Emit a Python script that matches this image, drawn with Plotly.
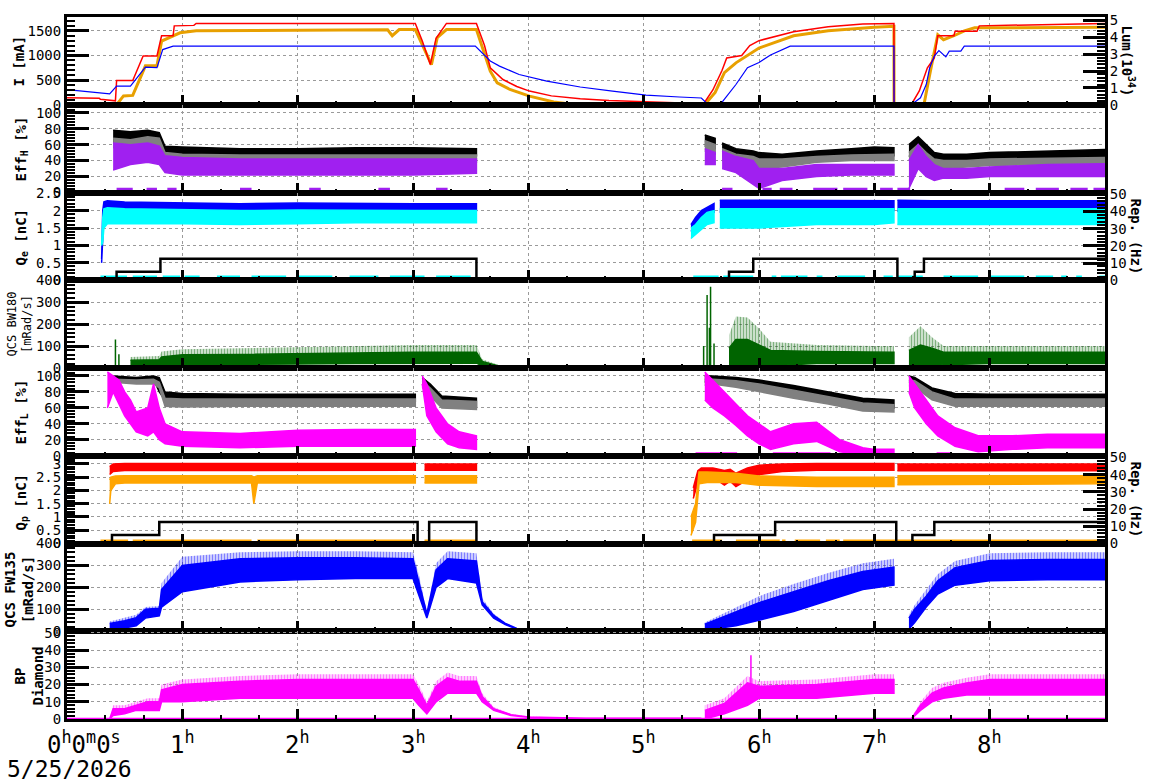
import plotly.graph_objects as go

# ---------------- data (time in hours) ----------------
# Panel 1: beam currents [mA] and luminosity [1e34]
t_ler = [0, 0.28, 0.29, 0.37, 0.42, 0.43, 0.57, 0.66, 0.78, 0.82, 0.92, 0.93, 1.1, 1.12, 3.02, 3.08, 3.15, 3.2, 3.29, 3.55,
         3.62, 3.67, 3.78, 3.9, 4.01, 4.2, 4.45, 4.7, 5.02, 5.31, 5.52, 5.6, 5.68, 5.72, 5.85, 5.92, 6.0, 6.3, 6.6, 6.9,
         7.17, 7.171, 7.32, 7.39, 7.46, 7.52, 7.55, 7.69, 7.7, 7.89, 7.91, 9.0]
I_ler = [140, 130, 110, 85, 80, 490, 490, 990, 990, 1400, 1400, 1600, 1610, 1650, 1650, 1300, 815, 1350, 1650, 1650,
         1200, 750, 512, 370, 277, 180, 121, 85, 55, 26, 20, 300, 700, 950, 1000, 1200, 1300, 1480, 1580, 1640,
         1650, 0, 0, 280, 750, 950, 1400, 1400, 1490, 1490, 1600, 1650]
t_her = [0, 0.29, 0.3, 0.43, 0.49, 0.57, 0.68, 0.78, 0.82, 0.88, 0.98, 1.12, 2.0, 2.78, 2.82, 2.88, 3.02, 3.16, 3.21, 3.29,
         3.55, 3.67, 3.73, 3.84, 4.01, 4.22, 4.4, 5.53, 5.62, 5.7, 5.8, 5.9, 6.0, 6.3, 6.6, 7.0, 7.17, 7.171, 7.43,
         7.48, 7.52, 7.55, 7.6, 7.69, 7.78, 7.87, 9.0]
I_her = [15, 10, 0, 0, 180, 190, 790, 790, 1290, 1360, 1460, 1500, 1510, 1520, 1400, 1525, 1525, 815, 1360, 1525,
         1525, 680, 445, 310, 175, 55, 5, 5, 250, 650, 850, 1000, 1150, 1400, 1500, 1570, 1590, 0, 0,
         610, 1090, 1420, 1320, 1400, 1500, 1560, 1570]
t_lum = [0, 0.37, 0.43, 0.55, 0.68, 0.78, 0.83, 0.92, 3.54, 3.67, 3.75, 3.92, 4.16, 4.45, 4.73, 5.02, 5.31, 5.5,
         5.56, 5.68, 5.8, 5.9, 6.0, 6.1, 6.27, 7.17, 7.171, 7.32, 7.4, 7.45, 7.48, 7.52, 7.56, 7.62, 7.65, 7.75, 7.78, 9.0]
L_lum = [0.9, 0.65, 1.1, 1.1, 2.23, 2.2, 3.27, 3.47, 3.47, 2.59, 2.29, 1.79, 1.4, 1.05, 0.81, 0.57, 0.46, 0.4,
         0.0, 0.15, 1.2, 2.2, 2.5, 2.95, 3.47, 3.47, 0, 0, 0.41, 1.2, 2.19, 2.88, 3.21, 2.84, 3.18, 3.18, 3.47, 3.47]

# Panel 2: Eff_H [%] bands (segments A..D)
t_effH = [[0.40, 0.55, 0.70, 0.80, 0.85, 1.0, 1.5, 2.0, 2.5, 3.0, 3.55],
          [5.53, 5.58, 5.62],
          [5.68, 5.8, 5.95, 6.0, 6.2, 6.5, 6.8, 7.0, 7.17],
          [7.3, 7.38, 7.45, 7.52, 7.6, 7.8, 8.0, 8.5, 9.0]]
effH_blk_hi = [[78, 76, 78, 75, 58, 57, 55, 55, 56, 56, 55], [72, 70, 68], [62, 55, 52, 50, 48, 52, 55, 57, 56],
               [60, 70, 60, 50, 48, 48, 50, 52, 54]]
effH_blk_lo = [[63, 65, 66, 64, 48, 46, 45, 45, 45, 45, 46], [58, 56, 55], [45, 42, 38, 36, 38, 42, 45, 46, 46],
               [45, 55, 45, 38, 36, 38, 40, 42, 42]]
effH_gry_hi = [[68, 66, 70, 68, 50, 48, 47, 47, 47, 47, 47], [65, 62, 60], [55, 48, 45, 42, 42, 45, 47, 48, 48],
               [50, 60, 50, 42, 40, 40, 42, 43, 44]]
effH_gry_lo = [[56, 58, 60, 58, 40, 38, 38, 38, 38, 38, 38], [52, 50, 48], [40, 38, 32, 30, 32, 38, 40, 40, 40],
               [40, 48, 40, 32, 30, 32, 34, 35, 35]]
effH_pur_hi = [[62, 60, 62, 58, 46, 44, 42, 42, 42, 42, 42], [55, 52, 50], [52, 45, 40, 30, 30, 35, 35, 35, 35],
               [40, 60, 45, 35, 30, 30, 32, 35, 36]]
effH_pur_lo = [[28, 35, 38, 35, 25, 22, 22, 22, 22, 22, 24], [35, 35, 35], [30, 25, 10, 5, 15, 20, 22, 22, 22],
               [5, 30, 20, 15, 18, 18, 20, 20, 20]]
effH_zero_runs = [(0.43, 0.57), (0.69, 0.78), (0.87, 0.95), (1.5, 1.6), (2.1, 2.2), (2.7, 2.8), (3.2, 3.3),
                  (5.68, 5.77), (6.03, 6.11), (6.18, 6.29), (6.47, 6.68), (6.73, 6.94), (7.05, 7.16),
                  (7.2, 7.31), (8.13, 8.3), (8.4, 8.6), (8.7, 8.85), (8.9, 9.0)]

# Panel 3: Q_e [nC] bands and rep rate [Hz]
t_qe = [[0.30, 0.31, 0.32, 0.35, 0.5, 1.0, 1.5, 2.0, 2.5, 3.0, 3.55],
        [5.41, 5.45, 5.5, 5.55, 5.61],
        [5.66, 6.0, 6.5, 7.0, 7.17],
        [7.2, 7.5, 8.0, 8.5, 9.0]]
qe_blu_hi = [[0.6, 2.0, 2.25, 2.28, 2.25, 2.22, 2.2, 2.22, 2.2, 2.2, 2.2], [1.6, 1.8, 2.0, 2.1, 2.2],
             [2.3, 2.3, 2.28, 2.28, 2.28], [2.3, 2.28, 2.28, 2.28, 2.28]]
qe_blu_lo = [[0.5, 1.2, 1.95, 2.02, 2.0, 2.0, 1.98, 2.0, 2.0, 2.0, 2.0], [1.4, 1.55, 1.75, 1.9, 1.95],
             [1.95, 1.95, 2.0, 2.0, 2.0], [1.98, 2.0, 2.0, 2.0, 2.0]]
qe_cya_hi = [[1.0, 1.8, 2.05, 2.08, 2.05, 2.02, 2.0, 2.02, 2.0, 2.0, 2.0], [1.5, 1.6, 1.8, 1.95, 2.0],
             [2.05, 2.05, 2.05, 2.05, 2.05], [2.05, 2.05, 2.05, 2.05, 2.05]]
qe_cya_lo = [[1.0, 1.1, 1.5, 1.62, 1.62, 1.62, 1.6, 1.62, 1.65, 1.65, 1.65], [1.2, 1.3, 1.45, 1.6, 1.65],
             [1.5, 1.5, 1.6, 1.6, 1.65], [1.6, 1.6, 1.6, 1.6, 1.6]]
qe_zero_runs = [(0.29, 0.52), (0.57, 0.78), (0.83, 0.98), (1.02, 1.15), (1.3, 1.5), (1.6, 1.9), (2.0, 2.3),
                (2.45, 2.7), (2.8, 3.1), (3.2, 3.5), (5.43, 5.65), (5.69, 5.95), (6.11, 6.15), (6.19, 6.42),
                (6.5, 6.55), (6.68, 6.92), (7.08, 7.16), (7.2, 7.42), (7.6, 7.9), (8.0, 8.3), (8.4, 8.55),
                (8.62, 8.67), (8.75, 8.8), (8.95, 9.0)]
t_rep_e = [0, 0.43, 0.81, 3.55, 5.74, 5.95, 7.2, 7.35, 7.43, 9.0]
rep_e = [0, 5, 12.5, 0, 5, 12.5, 0, 5, 12.5, 12.5]

# Panel 4: QCS BW180 [mRad/s]  (lo = floor, mid = top of dense part, hi = spike tops)
t_bw = [[0.55, 0.8, 0.82, 1.0, 1.5, 2.0, 2.5, 3.0, 3.55, 3.6, 3.75, 3.9],
        [5.74, 5.8, 5.9, 6.0, 6.1, 6.5, 7.0, 7.17],
        [7.3, 7.4, 7.5, 7.6, 8.0, 8.5, 9.0]]
bw_hi = [[50, 55, 75, 85, 90, 95, 100, 105, 105, 40, 12, 2], [150, 235, 230, 180, 120, 105, 100, 100],
         [140, 190, 140, 100, 100, 100, 100]]
bw_mid = [[35, 38, 50, 60, 62, 65, 70, 72, 72, 30, 8, 1], [90, 130, 130, 105, 80, 75, 72, 72],
          [80, 105, 90, 72, 72, 72, 72]]
bw_lo = [[10, 12, 15, 15, 15, 18, 20, 22, 22, 10, 3, 0], [5, 10, 10, 10, 10, 20, 20, 20],
         [5, 10, 10, 15, 20, 20, 20]]
t_bw_spk = [0.42, 0.45, 5.52, 5.55, 5.57, 5.58, 5.61]
bw_spk = [130, 63, 100, 333, 184, 370, 112]

# Panel 5: Eff_L [%]
t_effL = [[0.4, 0.6, 0.75, 0.8, 0.85, 1.0, 1.5, 2.0, 2.5, 3.02],
          [3.08, 3.15, 3.25, 3.55],
          [5.53, 5.6, 5.8, 6.0, 6.3, 6.6, 6.9, 7.17],
          [7.3, 7.35, 7.5, 7.7, 8.0, 8.5, 9.0]]
effL_blk_hi = [[100, 98, 100, 98, 80, 78, 77, 77, 77, 77], [98, 90, 75, 72], [100, 100, 98, 95, 88, 80, 72, 70],
               [100, 98, 85, 78, 77, 77, 77]]
effL_blk_lo = [[95, 94, 96, 80, 70, 68, 68, 68, 68, 68], [90, 80, 65, 62], [92, 95, 92, 88, 80, 72, 62, 60],
               [92, 90, 75, 68, 67, 67, 67]]
effL_gry_hi = [[96, 95, 96, 92, 72, 71, 71, 71, 71, 71], [94, 85, 70, 68], [96, 96, 94, 90, 82, 74, 66, 64],
               [95, 94, 80, 71, 71, 71, 71]]
effL_gry_lo = [[92, 90, 90, 85, 62, 61, 62, 62, 62, 62], [86, 75, 60, 58], [88, 90, 86, 80, 72, 65, 56, 55],
               [88, 86, 70, 62, 62, 62, 62]]
t_effL_m = [[0.35, 0.4, 0.45, 0.5, 0.55, 0.6, 0.7, 0.75, 0.8, 0.85, 1.0, 1.5, 2.0, 2.5, 3.02],
            [3.08, 3.12, 3.2, 3.3, 3.4, 3.55],
            [5.53, 5.6, 5.7, 5.8, 5.9, 6.0, 6.1, 6.3, 6.5, 6.7, 6.9, 7.0, 7.17],
            [7.3, 7.35, 7.45, 7.55, 7.7, 7.9, 8.2, 8.5, 9.0]]
effL_mag_hi = [[105, 100, 95, 80, 70, 55, 60, 90, 60, 40, 30, 28, 32, 33, 33], [100, 90, 60, 40, 30, 25],
               [105, 95, 80, 65, 50, 40, 30, 40, 42, 20, 10, 8, 8], [100, 90, 70, 50, 35, 25, 25, 27, 27]]
effL_mag_lo = [[60, 80, 65, 50, 40, 30, 25, 30, 20, 15, 12, 10, 12, 12, 12], [90, 50, 30, 15, 10, 8],
               [70, 60, 50, 38, 25, 15, 8, 15, 18, 5, 1, 1, 1], [80, 60, 40, 25, 12, 5, 8, 10, 10]]
effL_zero_runs = [(5.45, 5.81), (6.12, 6.62), (6.79, 7.17), (7.54, 7.66)]

# Panel 6: Q_p [nC] and rep rate [Hz]
t_qp_r = [[0.37, 0.4, 0.5, 1.0, 1.5, 2.0, 2.5, 3.02], [3.1, 3.55],
          [5.43, 5.47, 5.5, 5.6, 5.7, 5.75, 5.8, 5.9, 6.0, 6.2, 6.5, 7.0, 7.17], [7.2, 9.0]]
qp_red_hi = [[2.9, 3.0, 3.02, 3.02, 3.02, 3.02, 3.02, 3.02], [3.0, 3.0],
             [2.1, 2.75, 2.85, 2.85, 2.75, 2.8, 2.65, 2.85, 2.95, 3.0, 3.02, 3.02, 3.02], [3.0, 3.0]]
qp_red_lo = [[2.6, 2.72, 2.75, 2.76, 2.76, 2.76, 2.76, 2.76], [2.76, 2.76],
             [1.7, 2.3, 2.5, 2.5, 2.2, 2.35, 2.15, 2.4, 2.6, 2.72, 2.76, 2.76, 2.76], [2.74, 2.74]]
t_qp_o = [[0.37, 0.38, 0.42, 0.5, 1.0, 1.6, 1.62, 1.65, 2.0, 2.5, 3.02], [3.1, 3.55],
          [5.41, 5.45, 5.48, 5.55, 5.8, 6.0, 6.5, 7.0, 7.17], [7.2, 9.0]]
qp_org_hi = [[2.4, 2.5, 2.55, 2.56, 2.56, 2.56, 2.5, 2.56, 2.56, 2.56, 2.56], [2.56, 2.56],
             [1.0, 1.5, 2.7, 2.7, 2.65, 2.55, 2.5, 2.5, 2.5], [2.56, 2.56]]
qp_org_lo = [[1.5, 2.0, 2.25, 2.28, 2.28, 2.28, 1.5, 2.28, 2.28, 2.28, 2.28], [2.28, 2.28],
             [0.3, 0.8, 2.25, 2.3, 2.3, 2.2, 2.15, 2.15, 2.15], [2.22, 2.25]]
qp_zero_runs = [(0.29, 0.53), (0.57, 1.6), (1.65, 3.02), (3.1, 3.55), (5.42, 5.68), (5.8, 6.18), (6.2, 6.23),
                (6.31, 6.53), (6.58, 6.7), (6.73, 7.2), (7.2, 9.0)]
t_rep_p = [0, 0.39, 0.8, 3.04, 3.14, 3.55, 5.61, 6.14, 7.19, 7.33, 7.52, 9.0]
rep_p = [0, 5, 12.5, 0, 12.5, 0, 5, 12.5, 0, 5, 12.5, 12.5]

# Panel 7: QCS FW135 [mRad/s]
t_fw = [[0.37, 0.5, 0.6, 0.68, 0.8, 0.82, 1.0, 1.5, 2.0, 2.5, 3.0, 3.05, 3.12, 3.2, 3.3, 3.55, 3.6, 3.7, 3.8, 3.9, 4.0],
        [5.53, 5.8, 6.0, 6.3, 6.6, 6.9, 7.17],
        [7.3, 7.35, 7.45, 7.55, 7.7, 8.0, 8.5, 9.0]]
fw_hi = [[45, 60, 75, 110, 115, 220, 340, 360, 365, 365, 360, 260, 90, 310, 365, 355, 150, 80, 40, 15, 5],
         [40, 110, 160, 215, 265, 310, 330], [75, 120, 190, 260, 320, 355, 360, 360]]
fw_mid = [[35, 48, 62, 100, 105, 190, 300, 330, 335, 335, 330, 230, 80, 280, 330, 320, 135, 72, 36, 13, 4],
          [32, 88, 130, 180, 230, 272, 292], [60, 100, 160, 230, 290, 322, 327, 327]]
fw_lo = [[10, 15, 25, 60, 70, 110, 180, 225, 235, 240, 240, 170, 60, 200, 240, 220, 120, 60, 30, 10, 3],
         [5, 25, 50, 90, 140, 190, 210], [10, 40, 110, 170, 210, 230, 235, 235]]

# Panel 8: BP Diamond
t_bp = [[0.37, 0.4, 0.5, 0.6, 0.7, 0.8, 0.82, 1.0, 1.5, 2.0, 2.5, 3.0, 3.05, 3.12, 3.2, 3.3, 3.4, 3.55, 3.6, 3.7, 3.85, 4.0, 4.5, 5.5],
        [5.53, 5.7, 5.9, 6.0, 6.5, 7.0, 7.17],
        [7.32, 7.4, 7.5, 7.6, 7.8, 8.0, 9.0]]
bp_hi = [[0, 8, 8, 10, 12, 12, 20, 23, 25, 26, 26, 26, 20, 10, 22, 27, 25, 25, 15, 7, 3, 1.5, 0.5, 0.5],
         [8, 12, 25, 22, 23, 26, 26], [0, 10, 18, 21, 24, 26, 26]]
bp_mid = [[0, 6, 6, 8, 10, 10, 17, 20, 22, 23, 23, 23, 17, 8, 19, 24, 22, 22, 13, 6, 2.5, 1.2, 0.4, 0.4],
          [5, 9, 21, 19, 20, 23, 23], [0, 8, 15, 18, 21, 23, 23]]
bp_lo = [[0, 2, 3, 5, 5, 5, 10, 10, 12, 12, 12, 12, 8, 3, 10, 15, 15, 15, 10, 5, 2, 1, 0, 0],
         [0, 3, 8, 12, 12, 15, 15], [0, 5, 10, 12, 14, 14, 14]]
t_bp_spk = [5.93]
bp_spk = [37]

hour_ticks = list(range(1, 9))

# ---------------- figure ----------------
BLACK, GRAY, PURPLE, MAGENTA = "#000000", "#808080", "#a020f0", "#ff00ff"
BLUE, CYAN, RED, ORANGE, GOLD, GREEN = "#0000ff", "#00ffff", "#ff0000", "#ffa500", "#e8a000", "#006400"
FONT = "DejaVu Sans Mono"
GRID = "#9a9a9a"

fig = go.Figure()


def xa(k):
    return "x" if k == 1 else f"x{k}"


def ya(k):
    return "y" if k == 1 else f"y{k}"


def band(row, t, lo, hi, color, yaxis=None, pattern=False):
    xs = list(t) + list(t)[::-1]
    ys = list(hi) + list(lo)[::-1]
    kw = dict(fill="toself", fillcolor=color, line=dict(color=color, width=1.5))
    if pattern:
        kw = dict(fill="toself", fillcolor=color, line=dict(color="rgba(0,0,0,0)", width=0),
                  fillpattern=dict(shape="|", fgcolor=color, bgcolor="rgba(255,255,255,0)",
                                   size=3, solidity=0.6))
    fig.add_trace(go.Scatter(x=xs, y=ys, mode="lines", xaxis=xa(row), yaxis=yaxis or ya(row),
                             hoverinfo="skip", showlegend=False, **kw))


def curve(row, t, v, color, width=1.5, shape="linear", yaxis=None):
    fig.add_trace(go.Scatter(x=t, y=v, mode="lines", line=dict(color=color, width=width, shape=shape),
                             xaxis=xa(row), yaxis=yaxis or ya(row), hoverinfo="skip", showlegend=False))


def runs(row, run_list, level, color, width=4):
    xs, ys = [], []
    for a, b in run_list:
        xs += [a, b, None]
        ys += [level, level, None]
    fig.add_trace(go.Scatter(x=xs, y=ys, mode="lines", line=dict(color=color, width=width),
                             xaxis=xa(row), yaxis=ya(row), hoverinfo="skip", showlegend=False))


def spikes(row, t, v, base, color, width=1.5):
    xs, ys = [], []
    for ti, vi in zip(t, v):
        xs += [ti, ti, None]
        ys += [base, vi, None]
    fig.add_trace(go.Scatter(x=xs, y=ys, mode="lines", line=dict(color=color, width=width),
                             xaxis=xa(row), yaxis=ya(row), hoverinfo="skip", showlegend=False))


# panel 1
curve(1, t_her, I_her, GOLD, 3)
curve(1, t_ler, I_ler, RED, 1.5)
curve(1, t_lum, L_lum, BLUE, 1.2, yaxis="y9")

# panel 2
for i in range(4):
    band(2, t_effH[i], effH_blk_lo[i], effH_blk_hi[i], BLACK)
    band(2, t_effH[i], effH_gry_lo[i], effH_gry_hi[i], GRAY)
    band(2, t_effH[i], effH_pur_lo[i], effH_pur_hi[i], PURPLE)
runs(2, effH_zero_runs, 3.5, PURPLE)

# panel 3
for i in range(4):
    band(3, t_qe[i], qe_blu_lo[i], qe_blu_hi[i], BLUE)
    band(3, t_qe[i], qe_cya_lo[i], qe_cya_hi[i], CYAN)
runs(3, qe_zero_runs, 0.08, CYAN)
curve(3, t_rep_e, rep_e, BLACK, 2.5, "hv", yaxis="y10")

# panel 4
curve(4, [0, 9], [1, 1], GREEN, 1.5)
for i in range(3):
    band(4, t_bw[i], bw_mid[i], bw_hi[i], GREEN, pattern=True)
    band(4, t_bw[i], bw_lo[i], bw_mid[i], GREEN)
spikes(4, t_bw_spk, bw_spk, 0, GREEN)

# panel 5
for i in range(4):
    band(5, t_effL[i], effL_blk_lo[i], effL_blk_hi[i], BLACK)
    band(5, t_effL[i], effL_gry_lo[i], effL_gry_hi[i], GRAY)
    band(5, t_effL_m[i], effL_mag_lo[i], effL_mag_hi[i], MAGENTA)
runs(5, effL_zero_runs, 2, MAGENTA)

# panel 6
for i in range(4):
    band(6, t_qp_r[i], qp_red_lo[i], qp_red_hi[i], RED)
    band(6, t_qp_o[i], qp_org_lo[i], qp_org_hi[i], ORANGE)
runs(6, qp_zero_runs, 0.08, ORANGE)
curve(6, t_rep_p, rep_p, BLACK, 2.5, "hv", yaxis="y11")

# panel 7
curve(7, [0, 9], [1, 1], BLUE, 1.5)
for i in range(3):
    band(7, t_fw[i], fw_mid[i], fw_hi[i], BLUE, pattern=True)
    band(7, t_fw[i], fw_lo[i], fw_mid[i], BLUE)

# panel 8
curve(8, [0, 9], [0.3, 0.3], MAGENTA, 1.5)
for i in range(3):
    band(8, t_bp[i], bp_mid[i], bp_hi[i], MAGENTA, pattern=True)
    band(8, t_bp[i], bp_lo[i], bp_mid[i], MAGENTA)
spikes(8, t_bp_spk, bp_spk, 10, MAGENTA)

# ---------------- axes ----------------
N = 8
xcommon = dict(range=[0, 9], tickmode="linear", tick0=0, dtick=1, showticklabels=False,
               ticks="inside", ticklen=10, tickwidth=2.5, tickcolor="black",
               showline=True, linewidth=3, linecolor="black", mirror=True,
               showgrid=True, gridcolor=GRID, griddash="3px,3px", gridwidth=1, zeroline=False,
               minor=dict(tick0=0, dtick=1 / 3, ticks="inside", ticklen=4, tickwidth=1.5,
                          tickcolor="black", showgrid=False))

yspecs = {
    1: dict(range=[0, 1780], dtick=500, minor=100),
    2: dict(range=[0, 110], dtick=20, minor=4),
    3: dict(range=[0, 2.52], dtick=0.5, minor=0.1),
    4: dict(range=[0, 400], dtick=100, minor=20),
    5: dict(range=[0, 110], dtick=20, minor=4),
    6: dict(range=[0, 3.31], dtick=0.5, minor=0.1),
    7: dict(range=[0, 400], dtick=100, minor=20),
    8: dict(range=[0, 51], dtick=10, minor=2),
}

layout = dict(width=1172, height=782, margin=dict(l=67, r=67, t=9, b=63),
              plot_bgcolor="white", paper_bgcolor="white", showlegend=False,
              font=dict(family=FONT, size=14, color="black"))

for k in range(1, N + 1):
    xd = dict(xcommon, domain=[0, 1], anchor=ya(k))
    if k > 1:
        xd["matches"] = "x"
    layout["xaxis" if k == 1 else f"xaxis{k}"] = xd
    s = yspecs[k]
    yd = dict(domain=[1 - k / N, 1 - (k - 1) / N], anchor=xa(k), range=s["range"],
              tickmode="linear", tick0=0, dtick=s["dtick"],
              ticks="inside", ticklen=22, tickwidth=3, tickcolor="black",
              showline=True, linewidth=3, linecolor="black", mirror=True,
              showgrid=True, gridcolor=GRID, griddash="3px,3px", gridwidth=1, zeroline=False,
              tickfont=dict(family=FONT, size=14, color="black"),
              minor=dict(tick0=0, dtick=s["minor"], ticks="inside", ticklen=8, tickwidth=2,
                         tickcolor="black", showgrid=False))
    layout["yaxis" if k == 1 else f"yaxis{k}"] = yd


def right_axis(over, anchor, rng, dtick, minor):
    return dict(overlaying=over, anchor=anchor, side="right", range=rng, tickmode="linear", tick0=0,
                dtick=dtick, ticks="inside", ticklen=22, tickwidth=3, tickcolor="black",
                showline=True, linewidth=2, linecolor="black", showgrid=False, zeroline=False,
                tickfont=dict(family=FONT, size=14, color="black"),
                minor=dict(tick0=0, dtick=minor, ticks="inside", ticklen=8, tickwidth=2,
                           tickcolor="black", showgrid=False))


layout["yaxis9"] = right_axis("y", "x", [0, 5.2], 1, 0.2)
layout["yaxis10"] = right_axis("y3", "x3", [0, 51], 10, 2)
layout["yaxis11"] = right_axis("y6", "x6", [0, 51], 10, 2)

fig.update_layout(**layout)

# ---------------- annotations ----------------
L0, W, T0, HPX = 67, 1038, 9, 710


def px2paper(px, py):
    return (px - L0) / W, (T0 + HPX - py) / HPX


def ann(px, py, text, size=14, angle=0, xanchor="center", yanchor="middle"):
    x, y = px2paper(px, py)
    fig.add_annotation(x=x, y=y, xref="paper", yref="paper", text=text, showarrow=False,
                       textangle=angle, xanchor=xanchor, yanchor=yanchor,
                       font=dict(family=FONT, size=size, color="black"))


ann(19, 54, "<b>I [mA]</b>", 14, -90)
ann(22, 143, "<b>Eff<sub>H</sub> [%]</b>", 14, -90)
ann(22, 232, "<b>Q<sub>e</sub> [nC]</b>", 14, -90)
ann(20, 320, "QCS BW180<br>[mRad/s]", 12, -90)
ann(22, 409, "<b>Eff<sub>L</sub> [%]</b>", 14, -90)
ann(22, 500, "<b>Q<sub>p</sub> [nC]</b>", 14, -90)
ann(19, 588, "<b>QCS FW135<br>[mRad/s]</b>", 14, -90)
ann(29, 676, "<b>BP<br>Diamond</b>", 14, -90)
ann(1128, 53, "<b>Lum(10<sup>34</sup>)</b>", 14, 90)
ann(1136, 231, "<b>Rep. (Hz)</b>", 14, 90)
ann(1136, 497, "<b>Rep. (Hz)</b>", 14, 90)

for h in hour_ticks:
    fig.add_annotation(x=h, y=(T0 + HPX - 743) / HPX, xref="x8", yref="paper",
                       text=f"{h}<sup>h</sup>", showarrow=False, xanchor="center", yanchor="middle",
                       font=dict(family=FONT, size=24, color="black"))
ann(84, 743, "0<sup>h</sup>0<sup>m</sup>0<sup>s</sup>", 24)
ann(5, 770, "5/25/2026", 23, 0, xanchor="left")

fig.write_html("out.html")
